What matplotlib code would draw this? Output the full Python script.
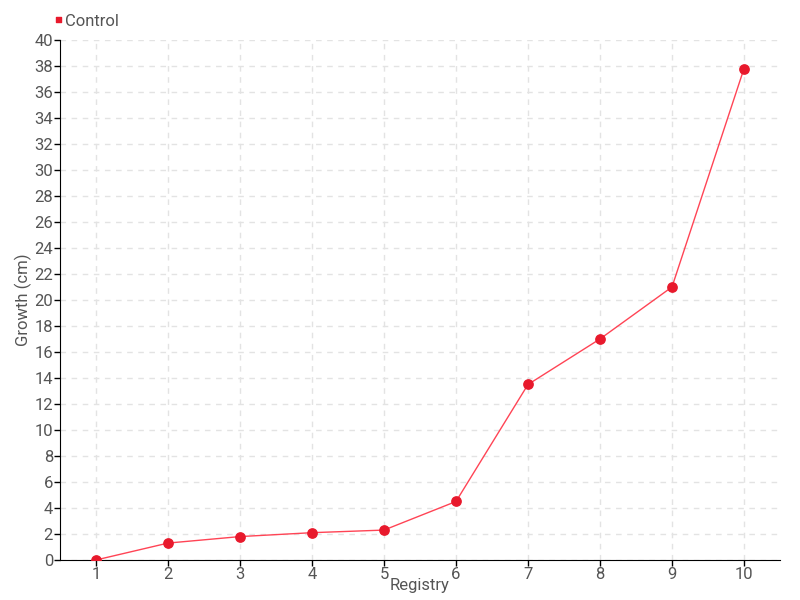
import matplotlib
matplotlib.use("Agg")
import matplotlib.pyplot as plt
from matplotlib.path import Path

registry = [1, 2, 3, 4, 5, 6, 7, 8, 9, 10]
growth = [0, 1.3, 1.8, 2.1, 2.3, 4.5, 13.5, 17, 21, 37.8]
series_name = "Control"

plt.rcParams['font.family'] = ['Roboto', 'DejaVu Sans']

txt = "#555555"
fig = plt.figure(figsize=(8, 6), dpi=100)
ax = fig.add_axes([0.075, 0.0667, 0.9, 0.8667])

ax.plot(registry, growth, color="#ff4455", lw=1, zorder=3)
ax.scatter(registry, growth, s=45, color="#e8192c", zorder=4, label=series_name)

ax.set_xlim(0.5, 10.5)
ax.set_ylim(0, 40)
ax.set_xticks(registry)
ax.set_yticks(range(0, 41, 2))
ax.grid(True, color="#e3e3e3", ls=(0, (4, 4)), lw=1)
ax.set_axisbelow(True)
for s in ["top", "right"]:
    ax.spines[s].set_visible(False)
ax.tick_params(length=4, width=1, colors="black", labelcolor=txt, labelsize=12, pad=1)

ax.set_xlabel("Registry", color=txt, fontsize=12, labelpad=-3)
ax.set_ylabel("Growth (cm)", color=txt, fontsize=12)
# the label's anchor is its right side, keep it just left of the tick labels
ax.yaxis.set_label_coords(-0.039, 0.5)

fig.legend(loc="upper left", bbox_to_anchor=(0.058, 0.987), frameon=False,
           handlelength=0.4, handletextpad=0.3, markerscale=0.5,
           labelcolor=txt, fontsize=12, borderaxespad=0)
leg = fig.legends[0]
for h in leg.legend_handles:
    h.set_paths([Path.unit_rectangle()])

fig.savefig("out.png")
